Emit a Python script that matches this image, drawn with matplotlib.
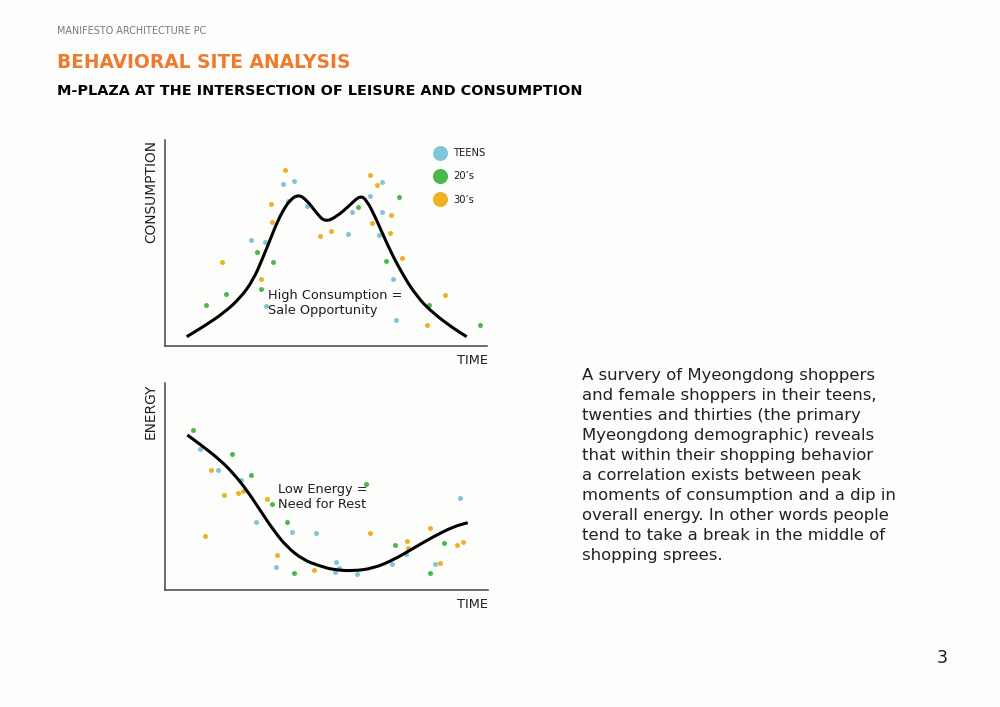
import matplotlib
matplotlib.use("Agg")
import matplotlib.pyplot as plt
from matplotlib.lines import Line2D
from matplotlib.path import Path
from matplotlib.patches import PathPatch

plt.rcParams['font.family'] = ['DejaVu Sans']

# ---------------- data ----------------
# Consumption chart (time, consumption) -- arbitrary units
cons_curve_t = [21.7, 38.3, 58.3, 75, 88.3, 98.3, 105, 111.7, 118.3, 125, 133.3, 141.7,
                151.7, 160, 171.7, 185, 195, 201.7, 211.7, 221.7, 235, 251.7, 268.3, 288.3, 301.7]
cons_curve_v = [9.3, 19.3, 32.7, 47.7, 66, 89.3, 106, 122.7, 136, 146, 151.5, 146,
                132.7, 124, 129.3, 141, 150.5, 146, 126, 102.7, 76, 49.3, 32.7, 17.7, 9.3]

cons_teens_t = [117.7, 129.3, 123.3, 141.7, 86.3, 100, 101, 186.7, 183.3, 205, 216.7, 217, 214.3, 228, 230.7]
cons_teens_v = [162, 165.3, 144.7, 140, 106, 104.3, 39.7, 133.7, 112, 150, 164.3, 134, 111, 66.7, 25.7]
cons_20s_t = [40.7, 60.7, 91.7, 107.7, 96, 192.7, 233.7, 220.7, 264, 314.7]
cons_20s_v = [41, 51.7, 94.3, 84.3, 57.3, 138.7, 149.3, 85.3, 41, 20.7]
cons_30s_t = [120.3, 106.3, 107, 56.7, 96, 155, 166, 205, 212.3, 206.7, 225.7, 225.3, 237.3, 262, 279.7]
cons_30s_v = [175.7, 142.3, 124, 84.3, 67, 110, 115, 171, 161, 123, 131.3, 113.3, 88, 20.7, 50.7]

# Energy chart (time, energy)
en_curve_t = [22.3, 38.3, 55, 68.3, 81.7, 95, 108.3, 121.7, 138.3, 155, 168.3, 188.3,
              208.3, 228.3, 248.3, 268.3, 288.3, 302.7]
en_curve_v = [155, 143.3, 130, 116.7, 100, 80, 60, 43.3, 30, 24, 20.2, 19,
              21.7, 30, 41.7, 53.3, 63.3, 67.3]

en_teens_t = [35, 52.7, 75.7, 91, 111, 126.7, 150.7, 171, 174.3, 169.7, 191.7, 227.3, 241.3, 270.3, 295]
en_teens_v = [141, 120.3, 109.7, 67.7, 23.3, 58.3, 56.7, 27.7, 21.7, 17.7, 16.3, 25.7, 36.3, 25.7, 91.7]
en_20s_t = [27.7, 66.7, 86.3, 107.3, 122, 129, 200.7, 229.7, 278.7, 265.3]
en_20s_v = [160, 136, 114.7, 85.7, 67.7, 16.7, 106, 44.7, 47, 16.7]
en_30s_t = [40, 46, 59.3, 73.3, 78.3, 102, 112, 149, 205.3, 242, 242.7, 265.3, 274.7, 292.3, 298]
en_30s_v = [54.3, 120.3, 94.7, 96.7, 99, 91, 34.7, 20.3, 56.7, 48.7, 42, 61.7, 27.3, 45, 48.3]

legend_labels = ["TEENS", "20’s", "30’s"]

header = "MANIFESTO ARCHITECTURE PC"
title = "BEHAVIORAL SITE ANALYSIS"
subtitle = "M-PLAZA AT THE INTERSECTION OF LEISURE AND CONSUMPTION"
paragraph_lines = ["A survery of Myeongdong shoppers",
                   "and female shoppers in their teens,",
                   "twenties and thirties (the primary",
                   "Myeongdong demographic) reveals",
                   "that within their shopping behavior",
                   "a correlation exists between peak",
                   "moments of consumption and a dip in",
                   "overall energy. In other words people",
                   "tend to take a break in the middle of",
                   "shopping sprees."]

# ---------------- style ----------------
BG = '#fdfdfb'
C_TEEN = '#7ec7da'
C_20 = '#4bb84c'
C_30 = '#efb225'
ORANGE = '#ee7a2e'
TXT = '#1e1e1e'

W, H = 1000, 707
fig = plt.figure(figsize=(W / 100, H / 100), dpi=100, facecolor=BG)
renderer = fig.canvas.get_renderer()


def fx(x):
    return x / W


def fy(y):
    return 1 - y / H


def fit(t, target, horizontal=True):
    bb = t.get_window_extent(renderer)
    size = bb.width if horizontal else bb.height
    t.set_fontsize(t.get_fontsize() * target / size)
    return t


def style_axes(ax, xmax, ymax):
    ax.set_facecolor(BG)
    ax.set_xlim(0, xmax)
    ax.set_ylim(0, ymax)
    ax.set_xticks([])
    ax.set_yticks([])
    for s in ['top', 'right']:
        ax.spines[s].set_visible(False)
    for s in ['left', 'bottom']:
        ax.spines[s].set_color('#444444')
        ax.spines[s].set_linewidth(1.1)


def smooth_line(ax, xs, ys, **kw):
    pts = list(zip(xs, ys))
    verts = [pts[0], ((pts[0][0] + pts[1][0]) / 2, (pts[0][1] + pts[1][1]) / 2)]
    codes = [Path.MOVETO, Path.LINETO]
    for i in range(1, len(pts) - 1):
        mid = ((pts[i][0] + pts[i + 1][0]) / 2, (pts[i][1] + pts[i + 1][1]) / 2)
        verts += [pts[i], mid]
        codes += [Path.CURVE3, Path.CURVE3]
    verts.append(pts[-1])
    codes.append(Path.LINETO)
    ax.add_patch(PathPatch(Path(verts, codes), fill=False, transform=ax.transData, **kw))


ax1 = fig.add_axes([fx(165), fy(346), fx(322), 206 / H])
style_axes(ax1, 322, 206)
ax2 = fig.add_axes([fx(165), fy(590), fx(323), 207 / H])
style_axes(ax2, 323, 207)

dot = 13
for ax, tt, tv, gt, gv, ot, ov, ct, cv in [
        (ax1, cons_teens_t, cons_teens_v, cons_20s_t, cons_20s_v, cons_30s_t, cons_30s_v, cons_curve_t, cons_curve_v),
        (ax2, en_teens_t, en_teens_v, en_20s_t, en_20s_v, en_30s_t, en_30s_v, en_curve_t, en_curve_v)]:
    ax.scatter(tt, tv, s=dot, color=C_TEEN, linewidths=0, zorder=2, clip_on=False)
    ax.scatter(gt, gv, s=dot, color=C_20, linewidths=0, zorder=2, clip_on=False)
    ax.scatter(ot, ov, s=dot, color=C_30, linewidths=0, zorder=2, clip_on=False)
    smooth_line(ax, ct, cv, edgecolor='black', lw=2.2, capstyle='butt', joinstyle='round', zorder=3)

a1 = ax1.text(102.7, 57, "High Consumption =\nSale Opportunity", fontsize=9, color=TXT,
              va='top', ha='left', linespacing=1.2, zorder=4)
fit(a1, 134)
a2 = ax2.text(112.7, 107, "Low Energy =\nNeed for Rest", fontsize=9, color=TXT,
              va='top', ha='left', linespacing=1.2, zorder=4)
a2.set_fontsize(a1.get_fontsize())

handles = [Line2D([], [], marker='o', ls='none', markersize=10.8, markerfacecolor=c,
                  markeredgecolor='none') for c in (C_TEEN, C_20, C_30)]
leg = ax1.legend(handles, legend_labels, loc='upper left', bbox_to_anchor=(fx(429), fy(143)),
                 bbox_transform=fig.transFigure, frameon=False, fontsize=7.2,
                 labelspacing=1.33, handletextpad=0.75, handlelength=1.2, borderpad=0, labelcolor=TXT)

# axis labels
l1 = fig.text(fx(151), fy(140), "CONSUMPTION", rotation=90, ha='center', va='top', fontsize=9.3, color=TXT)
fit(l1, 103, horizontal=False)
l2 = fig.text(fx(151), fy(383), "ENERGY", rotation=90, ha='center', va='top', fontsize=9.3, color=TXT)
l2.set_fontsize(l1.get_fontsize())
t1 = fig.text(fx(488), fy(361), "TIME", ha='right', va='center', fontsize=8.8, color=TXT)
fit(t1, 31)
t2 = fig.text(fx(488), fy(605), "TIME", ha='right', va='center', fontsize=8.8, color=TXT)
t2.set_fontsize(t1.get_fontsize())

# header
h0 = fig.text(fx(57), fy(30.5), header, fontsize=6.2, color='#777777', va='center', ha='left')
fit(h0, 150)
h1 = fig.text(fx(57), fy(63), title, fontsize=13.3, color=ORANGE, fontweight='bold', va='center', ha='left')
fit(h1, 296)
h2 = fig.text(fx(57), fy(91), subtitle, fontsize=10.2, color='black', fontweight='bold', va='center', ha='left')
fit(h2, 521)

# paragraph, one baseline every 20 px
ptexts = [fig.text(fx(582), fy(380 + 20 * i), line, fontsize=12, color='#222222',
                   va='baseline', ha='left') for i, line in enumerate(paragraph_lines)]
widest = max(t.get_window_extent(renderer).width for t in ptexts)
psize = 12 * 312 / widest
for t in ptexts:
    t.set_fontsize(psize)

# page number
fig.text(fx(942), fy(658), "3", fontsize=12.5, color=TXT, va='center', ha='center')

fig.savefig("out.png", dpi=100, facecolor=BG)
